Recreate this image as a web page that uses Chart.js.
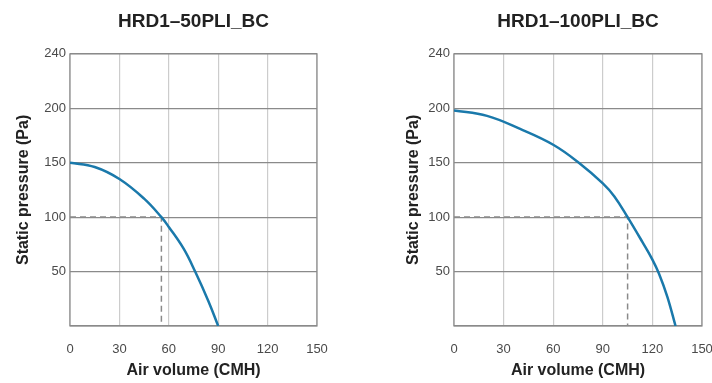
<!DOCTYPE html>
<html>
<head>
<meta charset="utf-8">
<script src="https://cdn.jsdelivr.net/npm/chart.js@4.4.0/dist/chart.umd.min.js"></script>
<style>
  body { margin: 0; background: #fff; }
  .wrap { position: absolute; top: 0; height: 383px; }
</style>
</head>
<body>
<div class="wrap" style="left:0; width:340px;"><canvas id="chartLeft"></canvas></div>
<div class="wrap" style="left:390px; width:322px;"><canvas id="chartRight"></canvas></div>
<script>
// Curve data
const leftTitle = 'HRD1\u201350PLI_BC';
const leftAir = [0, 15, 30, 45, 55.5, 60, 69, 76, 84, 90];
const leftPressure = [150, 146, 135, 117, 100, 91, 71, 50, 23, 0];
const leftOpAir = 55.5;
const leftOpPressure = 100;

const rightTitle = 'HRD1\u2013100PLI_BC';
const rightAir = [0, 20, 40, 60, 75.5, 90, 97, 105, 114, 120, 124, 129, 134];
const rightPressure = [198, 193, 181, 166.5, 150, 131, 119, 100, 77, 61, 48, 27, 0];
const rightOpAir = 105;
const rightOpPressure = 100;

const xTicks = [0, 30, 60, 90, 120, 150];
const yTicks = [0, 50, 100, 150, 200, 250];
const yTickLabels = ['', '50', '100', '150', '200', '240'];

document.addEventListener('DOMContentLoaded', function() {
    const fontFamily = "'Liberation Sans', Arial, Helvetica, sans-serif";

    // frame around the plot area
    const framePlugin = {
        id: 'frame',
        beforeDatasetsDraw(chart) {
            const a = chart.chartArea;
            const ctx = chart.ctx;
            ctx.save();
            ctx.strokeStyle = '#8a8a8a';
            ctx.lineWidth = 1.2;
            ctx.strokeRect(a.left, a.top, a.right - a.left, a.bottom - a.top);
            ctx.restore();
        }
    };

    function makeFanChart(canvasId, title, air, pressure, opAir, opPressure, yWidth, padRight) {
        const ctx = document.getElementById(canvasId).getContext('2d');
        return new Chart(ctx, {
            type: 'scatter',
            data: {
                datasets: [{
                    data: air.map((x, i) => ({ x: x, y: pressure[i] })),
                    showLine: true,
                    borderColor: '#1a79ab',
                    borderWidth: 2.5,
                    pointRadius: 0,
                    tension: 0.4
                }, {
                    data: [{ x: 0, y: opPressure }, { x: opAir, y: opPressure }, { x: opAir, y: 0 }],
                    showLine: true,
                    borderColor: '#8a8a8a',
                    borderWidth: 1.5,
                    borderDash: [6, 4],
                    pointRadius: 0,
                    tension: 0
                }]
            },
            options: {
                responsive: true,
                maintainAspectRatio: false,
                animation: false,
                layout: { padding: { left: 0, right: padRight, top: 0, bottom: 0 } },
                plugins: {
                    legend: { display: false },
                    tooltip: { enabled: false },
                    title: {
                        display: true,
                        fullSize: false,
                        text: title,
                        color: '#222',
                        font: { family: fontFamily, size: 19, weight: 'bold' },
                        padding: { top: 10, bottom: 21 }
                    }
                },
                scales: {
                    x: {
                        type: 'linear',
                        min: 0,
                        max: 150,
                        afterBuildTicks: s => { s.ticks = xTicks.map(v => ({ value: v })); },
                        afterFit: s => { s.height = 57; s.paddingLeft = 0; s.paddingRight = 0; },
                        grid: { color: '#cccccc', lineWidth: 1.2, drawTicks: false },
                        border: { display: false },
                        ticks: {
                            color: '#4a4a4a',
                            padding: 16,
                            font: { family: fontFamily, size: 13 }
                        },
                        title: {
                            display: true,
                            text: 'Air volume (CMH)',
                            color: '#222',
                            font: { family: fontFamily, size: 16, weight: 'bold' },
                            padding: { top: 0, bottom: 3 }
                        }
                    },
                    y: {
                        type: 'linear',
                        min: 0,
                        max: 250,
                        afterBuildTicks: s => { s.ticks = yTicks.map(v => ({ value: v })); },
                        afterFit: s => { s.width = yWidth; s.paddingTop = 0; s.paddingBottom = 0; },
                        grid: { color: '#8a8a8a', lineWidth: 1.2, drawTicks: false },
                        border: { display: false },
                        ticks: {
                            color: '#4a4a4a',
                            padding: 4,
                            font: { family: fontFamily, size: 13 },
                            callback: v => yTickLabels[yTicks.indexOf(v)]
                        },
                        title: {
                            display: true,
                            text: 'Static pressure (Pa)',
                            color: '#222',
                            font: { family: fontFamily, size: 16, weight: 'bold' },
                            padding: { top: 14, bottom: 0 }
                        }
                    }
                }
            },
            plugins: [framePlugin]
        });
    }

    makeFanChart('chartLeft', leftTitle, leftAir, leftPressure, leftOpAir, leftOpPressure, 70, 23);
    makeFanChart('chartRight', rightTitle, rightAir, rightPressure, rightOpAir, rightOpPressure, 64, 10);
});
</script>
</body>
</html>
